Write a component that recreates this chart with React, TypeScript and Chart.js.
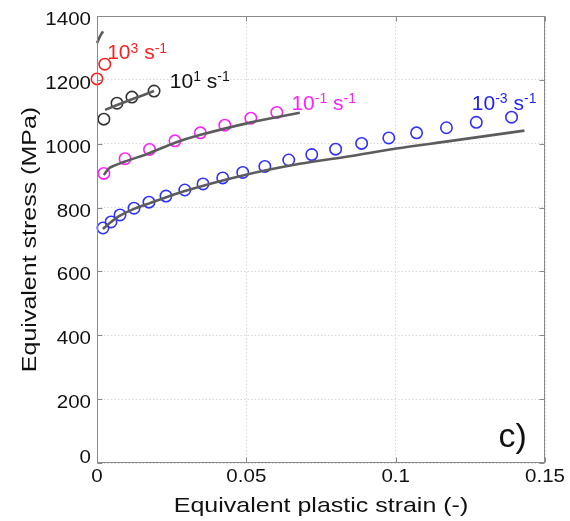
import React, { useEffect, useRef } from "react";
import { Chart, registerables } from "chart.js";

Chart.register(...registerables);

// ---- axis ticks ----
const xTickValues = [0, 0.05, 0.1, 0.15];
const xTickLabels = ["0", "0.05", "0.1", "0.15"];
const yTickValues = [0, 200, 400, 600, 800, 1000, 1200, 1400];
const yTickLabels = ["0", "200", "400", "600", "800", "1000", "1200", "1400"];
const xTitle = "Equivalent plastic strain (-)";
const yTitle = "Equivalent stress (MPa)";
const panelLabel = "c)";

// ---- 10^3 s^-1 ----
const strainRate3 = [0, 0.0026];
const stressRate3 = [1203, 1249];
const fitStrainRate3 = [0, 0.001, 0.002];
const fitStressRate3 = [1315, 1336, 1352];

// ---- 10^1 s^-1 ----
const strainRate1 = [0.0023, 0.0067, 0.0117, 0.0191];
const stressRate1 = [1077, 1127, 1146, 1165];
const fitStrainRate1 = [0.0027, 0.0067, 0.0117, 0.0191];
const fitStressRate1 = [1106, 1121, 1139, 1165];

// ---- 10^-1 s^-1 ----
const strainRateM1 = [0.0023, 0.0094, 0.0176, 0.0261, 0.0346, 0.0428, 0.0515, 0.0602];
const stressRateM1 = [907, 953, 982, 1009, 1034, 1058, 1080, 1098];
const fitStrainRateM1 = [0.0023, 0.0043, 0.0094, 0.0177, 0.0261, 0.0344, 0.0512, 0.0679];
const fitStressRateM1 = [902, 925, 944, 971, 1003, 1027, 1066, 1097];

// ---- 10^-3 s^-1 ----
const strainRateM3 = [
  0.002, 0.0047, 0.0077, 0.0124, 0.0174, 0.0231, 0.0294, 0.0355, 0.0421, 0.0488,
  0.0562, 0.0642, 0.0719, 0.0799, 0.0886, 0.0977, 0.107, 0.117, 0.127, 0.1388,
];
const stressRateM3 = [
  736, 755, 777, 798, 817, 836, 855, 874, 893, 910,
  929, 949, 966, 983, 1001, 1018, 1034, 1050, 1067, 1083,
];
const fitStrainRateM3 = [0.002, 0.0047, 0.0077, 0.0124, 0.0177, 0.0294, 0.0485, 0.0679, 0.0846, 0.1002, 0.118, 0.1431];
const fitStressRateM3 = [733, 755, 775, 796, 814, 852, 900, 937, 961, 985, 1008, 1041];

// ---- rate labels ----
const rateExponents = ["3", "1", "-1", "-3"];
const rateColors = ["#ff1f1f", "#111111", "#ff1fff", "#1f1fff"];
const labelStrain = [0.0034, 0.0244, 0.0651, 0.1255];
const labelStress = [1264, 1176, 1106, 1106];
const panelStrain = 0.1344;
const panelStress = 51;

const FONT = "'Liberation Sans', Arial, Helvetica, sans-serif";
const LINE_COLOR = "#5c5c5c";

const pts = (xs: number[], ys: number[]) => xs.map((x, i) => ({ x, y: ys[i] }));

const lineSet = (xs: number[], ys: number[]) => ({
  data: pts(xs, ys),
  showLine: true,
  borderColor: LINE_COLOR,
  borderWidth: 2.6,
  pointRadius: 0,
  tension: 0.3,
  clip: false as const,
});

const pointSet = (xs: number[], ys: number[], color: string) => ({
  data: pts(xs, ys),
  showLine: false,
  borderColor: color,
  backgroundColor: "rgba(0,0,0,0)",
  pointBorderColor: color,
  pointBackgroundColor: "rgba(0,0,0,0)",
  pointRadius: 5.7,
  pointBorderWidth: 1.6,
  clip: false as const,
});

function drawText(
  ctx: CanvasRenderingContext2D,
  text: string,
  x: number,
  y: number,
  size: number,
  color: string,
  align: CanvasTextAlign,
  sx: number,
  rotate = false
) {
  ctx.save();
  ctx.translate(x, y);
  if (rotate) ctx.rotate(-Math.PI / 2);
  ctx.scale(sx, 1);
  ctx.font = `${size}px ${FONT}`;
  ctx.fillStyle = color;
  ctx.textAlign = align;
  ctx.textBaseline = "alphabetic";
  ctx.fillText(text, 0, 0);
  ctx.restore();
}

const decorPlugin = {
  id: "decor",
  afterDraw(chart: any) {
    const { ctx, chartArea } = chart;
    const xs = chart.scales.x;
    const ys = chart.scales.y;
    const { left, right, top, bottom } = chartArea;

    // box and inward ticks
    ctx.save();
    ctx.strokeStyle = "#8a8a8a";
    ctx.lineWidth = 1;
    const L = Math.round(left) + 0.5;
    const R = Math.round(right) - 0.5;
    const T = Math.round(top) + 0.5;
    const B = Math.round(bottom) - 0.5;
    ctx.strokeRect(L, T, R - L, B - T);
    ctx.beginPath();
    yTickValues.forEach((v) => {
      const py = Math.round(ys.getPixelForValue(v)) + 0.5;
      ctx.moveTo(L, py);
      ctx.lineTo(L + 5, py);
      ctx.moveTo(R, py);
      ctx.lineTo(R - 5, py);
    });
    xTickValues.forEach((v) => {
      const px = Math.round(xs.getPixelForValue(v)) + 0.5;
      ctx.moveTo(px, B);
      ctx.lineTo(px, B - 5);
      ctx.moveTo(px, T);
      ctx.lineTo(px, T + 5);
    });
    ctx.stroke();
    ctx.restore();

    // tick labels
    xTickValues.forEach((v, i) => {
      drawText(ctx, xTickLabels[i], xs.getPixelForValue(v), bottom + 19, 19, "#111", "center", 1.08);
    });
    yTickValues.forEach((v, i) => {
      const py = ys.getPixelForValue(v);
      const dy = v === 0 ? 0 : 9;
      drawText(ctx, yTickLabels[i], left - 6, py + dy, 19, "#111", "right", 1.08);
    });

    // axis titles
    drawText(ctx, xTitle, (left + right) / 2, bottom + 49, 21, "#111", "center", 1.19);
    drawText(ctx, yTitle, 36, (top + bottom) / 2, 21, "#111", "center", 1.19, true);

    // rate labels with superscripts
    rateExponents.forEach((exp, i) => {
      let x = xs.getPixelForValue(labelStrain[i]);
      const y = ys.getPixelForValue(labelStress[i]);
      const color = rateColors[i];
      const segs: [string, boolean][] = [["10", false], [exp, true], [" s", false], ["-1", true]];
      segs.forEach(([t, sup]) => {
        const size = sup ? 14 : 21;
        ctx.save();
        ctx.font = `${size}px ${FONT}`;
        const w = ctx.measureText(t).width;
        ctx.restore();
        drawText(ctx, t, x, sup ? y - 6.5 : y, size, color, "left", 1);
        x += w;
      });
    });

    // panel label
    drawText(
      ctx,
      panelLabel,
      xs.getPixelForValue(panelStrain),
      ys.getPixelForValue(panelStress),
      34,
      "#111",
      "left",
      1
    );
  },
};

export default function App() {
  const canvasRef = useRef<HTMLCanvasElement | null>(null);

  useEffect(() => {
    const canvas = canvasRef.current;
    if (!canvas) return;
    const gridCommon = {
      color: "#d9d9d9",
      lineWidth: 1,
      drawTicks: false,
    };
    const chart = new Chart(canvas, {
      type: "scatter",
      data: {
        datasets: [
          lineSet(fitStrainRate3, fitStressRate3),
          lineSet(fitStrainRate1, fitStressRate1),
          lineSet(fitStrainRateM1, fitStressRateM1),
          lineSet(fitStrainRateM3, fitStressRateM3),
          pointSet(strainRate3, stressRate3, rateColors[0]),
          pointSet(strainRate1, stressRate1, "#333333"),
          pointSet(strainRateM1, stressRateM1, rateColors[2]),
          pointSet(strainRateM3, stressRateM3, "#3030ff"),
        ] as any,
      },
      options: {
        animation: false,
        responsive: false,
        maintainAspectRatio: false,
        layout: { padding: { top: 16, right: 25, left: 0, bottom: 0 } },
        plugins: {
          legend: { display: false },
          tooltip: { enabled: false },
        },
        scales: {
          x: {
            type: "linear",
            min: 0,
            max: 0.15,
            afterBuildTicks: (s: any) => {
              s.ticks = xTickValues.map((v) => ({ value: v }));
            },
            afterFit: (s: any) => {
              s.height = 58;
            },
            ticks: { display: false },
            grid: gridCommon,
            border: { display: false, dash: [1.5, 2] },
          },
          y: {
            type: "linear",
            min: 0,
            max: 1400,
            afterBuildTicks: (s: any) => {
              s.ticks = yTickValues.map((v) => ({ value: v }));
            },
            afterFit: (s: any) => {
              s.width = 97;
            },
            ticks: { display: false },
            grid: gridCommon,
            border: { display: false, dash: [1.5, 2] },
          },
        },
      },
      plugins: [decorPlugin],
    });
    return () => chart.destroy();
  }, []);

  return (
    <div style={{ position: "absolute", left: 0, top: 0, width: 570, height: 521, background: "#fff" }}>
      <canvas ref={canvasRef} width={570} height={521} style={{ width: 570, height: 521, display: "block" }} />
    </div>
  );
}
